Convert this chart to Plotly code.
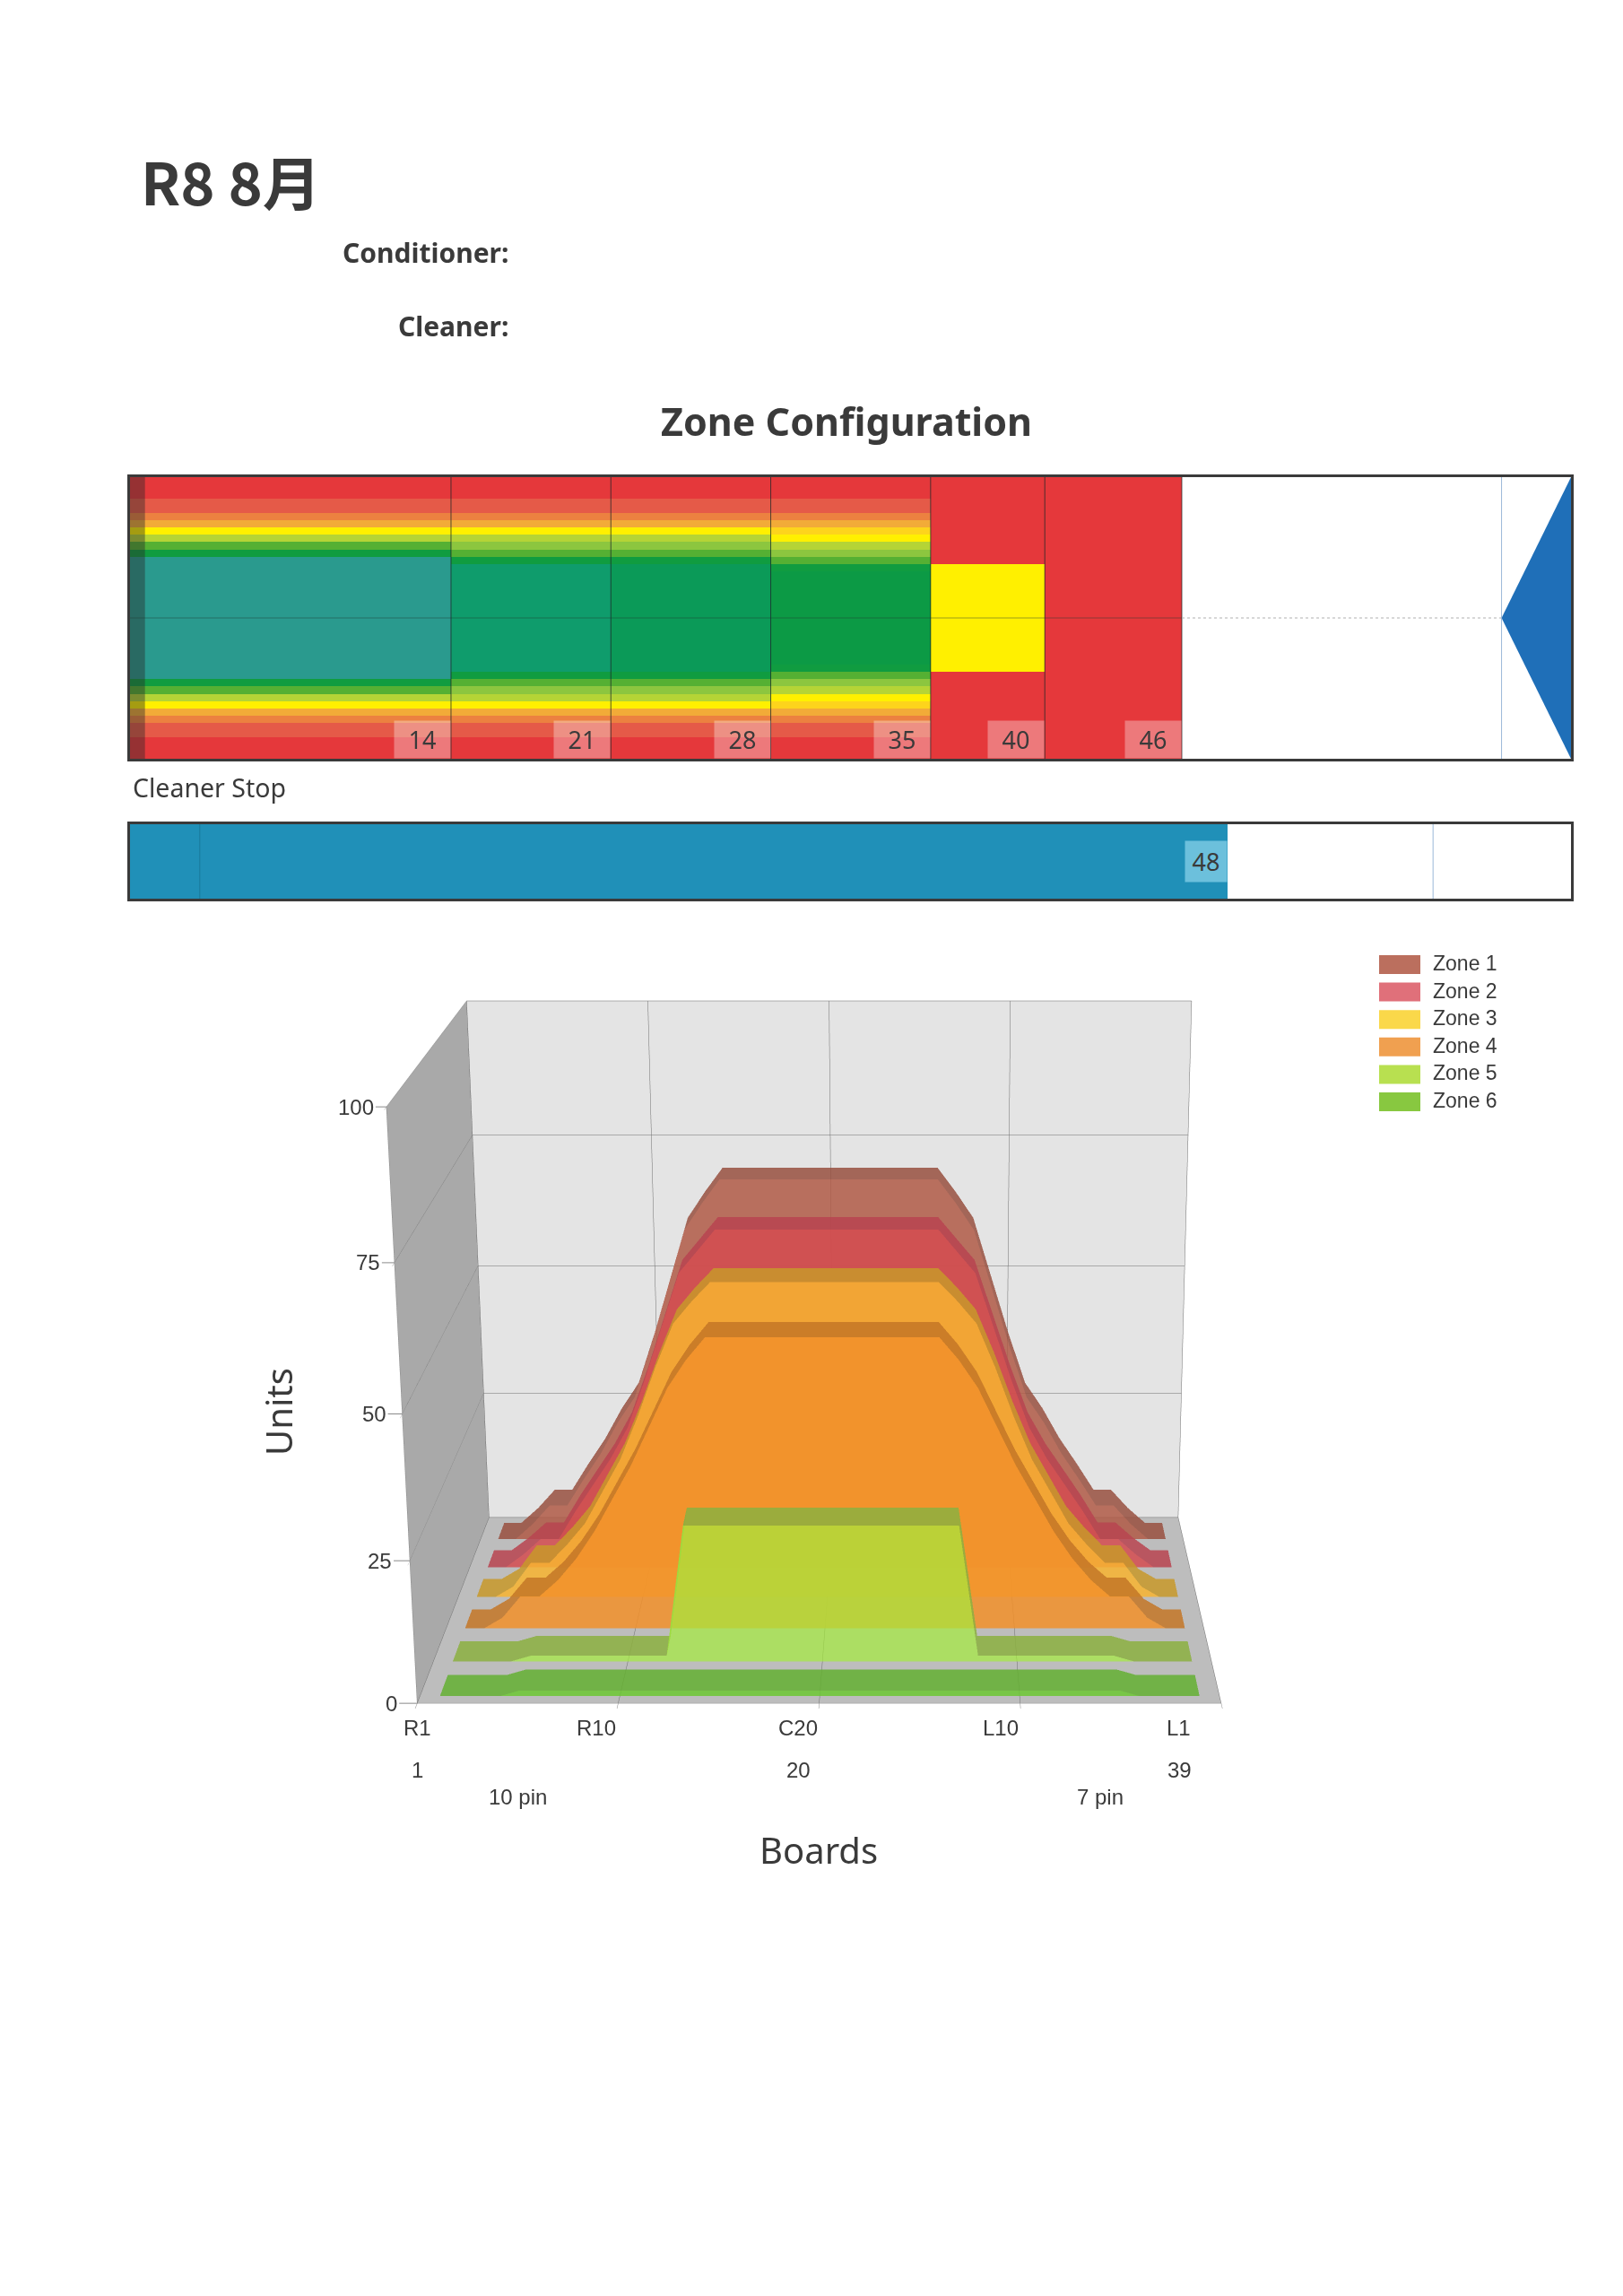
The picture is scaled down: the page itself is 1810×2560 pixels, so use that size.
import plotly.graph_objects as go

W = 1810
H = 2560

# lane pattern, one row per board, one column per zone
zone_ends = [14, 21, 28, 35, 40, 46]
lane_start = -0.055
lane_end = 63.04
foul_strip = 0.6
pin_deck = 60
stop_at = 48
stop_lines = [3, 57]

band_colors = ['#e5383b', '#e55a48', '#ec8140', '#f2ab38', '#fdd41c', '#fff000', '#b5d436',
               '#8cc63f', '#55b033', '#109c40', '#0c9a45', '#0b9a58', '#2a9a8e', '#0f9c6c']
lane_z1 = [0, 0, 0, 1, 1, 2, 3, 5, 6, 8, 9, 12, 12, 12, 12, 12, 12, 12, 12, 12,
           12, 12, 12, 12, 12, 12, 12, 12, 9, 8, 6, 5, 3, 2, 1, 1, 0, 0, 0]
lane_z2 = [0, 0, 0, 1, 1, 2, 3, 5, 6, 7, 8, 9, 13, 13, 13, 13, 13, 13, 13, 13,
           13, 13, 13, 13, 13, 13, 13, 9, 8, 7, 6, 5, 3, 2, 1, 1, 0, 0, 0]
lane_z3 = [0, 0, 0, 1, 1, 2, 3, 5, 6, 7, 8, 9, 11, 11, 11, 11, 11, 11, 11, 11,
           11, 11, 11, 11, 11, 11, 11, 9, 8, 7, 6, 5, 3, 2, 1, 1, 0, 0, 0]
lane_z4 = [0, 0, 0, 1, 1, 2, 3, 4, 5, 6, 7, 8, 9, 10, 10, 10, 10, 10, 10, 10,
           10, 10, 10, 10, 10, 10, 9, 8, 7, 6, 5, 4, 3, 2, 1, 1, 0, 0, 0]
lane_z5 = [0] * 12 + [5] * 15 + [0] * 12
lane_z6 = [0] * 39

# oil units per board
boards = list(range(1, 40))
units_z1 = [0, 0, 3, 6.7, 6.7, 12, 17, 23, 28, 38, 49, 60, 65, 69.5, 69.5, 69.5, 69.5, 69.5, 69.5, 69.5,
            69.5, 69.5, 69.5, 69.5, 69.5, 69.5, 65, 60, 49, 38, 28, 23, 17, 12, 6.7, 6.7, 3, 0, 0]
units_z2 = [0, 0, 2.5, 5.5, 5.5, 11, 16, 21, 27, 36, 46, 56, 60, 64, 64, 64, 64, 64, 64, 64,
            64, 64, 64, 64, 64, 64, 60, 56, 46, 36, 27, 21, 16, 11, 5.5, 5.5, 2.5, 0, 0]
units_z3 = [0, 0, 2, 6.5, 6.5, 10, 14, 20, 26, 34, 43, 51, 55, 58.5, 58.5, 58.5, 58.5, 58.5, 58.5, 58.5,
            58.5, 58.5, 58.5, 58.5, 58.5, 58.5, 55, 51, 43, 34, 26, 20, 14, 10, 6.5, 6.5, 2, 0, 0]
units_z4 = [0, 0, 2, 6, 6, 9, 13, 18, 24, 30, 37, 44, 49, 53, 53, 53, 53, 53, 53, 53,
            53, 53, 53, 53, 53, 53, 49, 44, 37, 30, 24, 18, 13, 9, 6, 6, 2, 0, 0]
units_z5 = [0] * 4 + [1] * 8 + [24.5] * 15 + [1] * 8 + [0] * 4
units_z6 = [0] * 4 + [1] * 31 + [0] * 4

zone_names = ['Zone 1', 'Zone 2', 'Zone 3', 'Zone 4', 'Zone 5', 'Zone 6']
legend_colors = ['#bb6f5e', '#e0707a', '#fad84a', '#f0a050', '#b8e050', '#88c840']
front_colors = ['#b05a46', '#d44c50', '#f8b430', '#f2902a', '#a4ec3c', '#6cc832']
top_colors = ['#98503f', '#b84450', '#c8982a', '#c47626', '#8cb040', '#64b032']
front_opacity = [0.85, 0.85, 0.85, 0.85, 0.7, 0.85]

x_tickvals = [0, 10, 20, 30, 40]
x_ticktext = ['R1', 'R10', 'C20', 'L10', 'L1']
z_tickvals = [0, 25, 50, 75, 100]

DARK = '#3a3a3a'


def px(x):
    return x / W


def py(y):
    return 1 - y / H


fig = go.Figure()

# lane
scale = [[0, band_colors[0]]]
for n, c in enumerate(band_colors):
    scale.append([n / len(band_colors), c])
    scale.append([(n + 1) / len(band_colors), c])
lane_rows = [list(r) for r in zip(lane_z1, lane_z2, lane_z3, lane_z4, lane_z5, lane_z6)]
fig.add_trace(go.Heatmap(x=[lane_start] + zone_ends, y=[b - 0.5 for b in boards] + [39.5], z=lane_rows,
                         colorscale=scale, zmin=-0.5, zmax=len(band_colors) - 0.5, showscale=False,
                         hoverinfo='skip', xaxis='x', yaxis='y'))
fig.add_trace(go.Scatter(x=[pin_deck, lane_end, lane_end, pin_deck], y=[20, 0.5, 39.5, 20], fill='toself',
                         fillcolor='#1f6fb8', mode='none', hoverinfo='skip', showlegend=False,
                         xaxis='x', yaxis='y'))

# cleaner stop bar
fig.add_trace(go.Bar(x=[stop_at - lane_start], base=[lane_start], y=[0], width=1, orientation='h',
                     marker=dict(color='#2090b8', line=dict(width=0)), hoverinfo='skip', showlegend=False,
                     xaxis='x2', yaxis='y2'))

shapes = []
for e in zone_ends:
    shapes.append(dict(type='line', xref='x', yref='y', x0=e, x1=e, y0=0.5, y1=39.5,
                       line=dict(color='rgba(30,40,40,0.75)', width=1)))
shapes.append(dict(type='rect', xref='x', yref='y', x0=lane_start, x1=foul_strip, y0=0.5, y1=39.5,
                   fillcolor='rgba(40,40,40,0.42)', line=dict(width=0)))
shapes.append(dict(type='line', xref='x', yref='y', x0=lane_start, x1=zone_ends[-1], y0=20, y1=20,
                   line=dict(color='rgba(30,60,50,0.45)', width=1)))
shapes.append(dict(type='line', xref='x', yref='y', x0=zone_ends[-1], x1=pin_deck, y0=20, y1=20,
                   line=dict(color='#b0b0b0', width=1, dash='dot')))
shapes.append(dict(type='line', xref='x', yref='y', x0=pin_deck, x1=pin_deck, y0=0.5, y1=39.5,
                   line=dict(color='#9ab8d8', width=1)))
shapes.append(dict(type='line', xref='x2', yref='y2', x0=stop_lines[0], x1=stop_lines[0], y0=-0.5, y1=0.5,
                   line=dict(color='#1a7a9c', width=1)))
shapes.append(dict(type='line', xref='x2', yref='y2', x0=stop_lines[1], x1=stop_lines[1], y0=-0.5, y1=0.5,
                   line=dict(color='#9ab8d8', width=1)))

annotations = []
for e in zone_ends:
    annotations.append(dict(x=e, y=39.5, xref='x', yref='y', text=str(e), showarrow=False,
                            xanchor='right', yanchor='bottom', width=62, height=41, borderpad=0,
                            bgcolor='rgba(255,255,255,0.33)', font=dict(family='Noto Sans', size=27, color=DARK)))
annotations.append(dict(x=stop_at, y=0, xref='x2', yref='y2', text=str(stop_at), showarrow=False,
                        xanchor='right', yanchor='middle', width=46, height=45, borderpad=0,
                        bgcolor='#6cc0dc', font=dict(family='Noto Sans', size=27, color=DARK)))


def page_text(x, y, text, size, anchor='left', family='Noto Sans', bold=False, color=DARK, angle=0):
    annotations.append(dict(x=px(x), y=py(y), xref='paper', yref='paper', text=text, showarrow=False,
                            xanchor=anchor, yanchor='middle', textangle=angle,
                            font=dict(family=family, size=size, color=color, weight=700 if bold else 400)))


page_text(155, 201, 'R8 8月', 65, family='Noto Sans CJK JP', bold=True)
page_text(569, 282, 'Conditioner:', 30, anchor='right', bold=True)
page_text(569, 363, 'Cleaner:', 30, anchor='right', bold=True)
page_text(944, 469, 'Zone Configuration', 43, anchor='center', bold=True)
page_text(146, 878, 'Cleaner Stop', 28.5)
page_text(310, 1574, 'Units', 40, anchor='center', angle=-90)
page_text(913, 2062, 'Boards', 40, anchor='center')

# legend
for n, name in enumerate(zone_names):
    top = 1065 + n * 30.6
    shapes.append(dict(type='rect', xref='paper', yref='paper', x0=px(1538), x1=px(1584),
                       y0=py(top), y1=py(top + 21), fillcolor=legend_colors[n], line=dict(width=0)))
    page_text(1596, top + 9, name, 23, family='Liberation Sans')

# 3d zones, drawn back to front
all_units = [units_z1, units_z2, units_z3, units_z4, units_z5, units_z6]
for n, units in enumerate(all_units):
    slot = len(all_units) - 1 - n
    y_front = slot + 0.2
    y_back = slot + 0.8
    count = len(boards)
    xs = [b for b in boards for _ in range(2)]
    # front face
    ys = [y_front] * (2 * count)
    zs = [v for u in units for v in (0, u)]
    # top face
    ys_top = [v for _ in boards for v in (y_front, y_back)]
    zs_top = [u for u in units for _ in range(2)]
    i = [q for c in range(count - 1) for q in (2 * c, 2 * c + 1)]
    j = [q for c in range(count - 1) for q in (2 * c + 2, 2 * c + 2)]
    k = [q for c in range(count - 1) for q in (2 * c + 1, 2 * c + 3)]
    light = dict(ambient=1, diffuse=0, specular=0, fresnel=0, roughness=1)
    fig.add_trace(go.Mesh3d(x=xs, y=ys_top, z=zs_top, i=i, j=j, k=k, color=top_colors[n], opacity=0.85,
                            flatshading=True, lighting=light, hoverinfo='skip', scene='scene'))
    fig.add_trace(go.Mesh3d(x=xs, y=ys, z=zs, i=i, j=j, k=k, color=front_colors[n], opacity=front_opacity[n],
                            flatshading=True, lighting=light, hoverinfo='skip', scene='scene'))

label_font = dict(family='Liberation Sans', size=24, color=DARK)
scene_notes = []
# the arrow is the little tick between the number and the wall
z_gap = [-20, -18, -16, -14, -12]
for v, g in zip(z_tickvals, z_gap):
    scene_notes.append(dict(x=0, y=0, z=v, text=str(v), showarrow=True, arrowhead=0, arrowwidth=1,
                            arrowcolor='#8a8a8a', ax=g, ay=0, xanchor='right', font=label_font))
x_shift = [18, 0, 0, 0, -32]
for v, t, s in zip(x_tickvals, x_ticktext, x_shift):
    scene_notes.append(dict(x=v, y=0, z=0, text=t, showarrow=False, xanchor='right', xshift=s, yshift=-27, font=label_font))
for v, t, s in zip([0, 20, 40], ['1', '20', '39'], [0, -23, -46]):
    scene_notes.append(dict(x=v, y=0, z=0, text=t, showarrow=False, xshift=s, yshift=-74, font=label_font))
for v, t in zip([5, 34], ['10 pin', '7 pin']):
    scene_notes.append(dict(x=v, y=0, z=0, text=t, showarrow=False, yshift=-104, font=label_font))

axis_common = dict(showspikes=False, zeroline=False, showticklabels=False, title='', showbackground=True,
                   gridcolor='#6e6e6e', gridwidth=1, showline=True, linecolor='#8a8a8a', linewidth=1)
axis_ticks = dict(ticks='outside', ticklen=8, tickcolor='#8a8a8a', tickwidth=1)

fig.update_layout(
    width=W, height=H, margin=dict(l=0, r=0, t=0, b=0), autosize=False,
    paper_bgcolor='white', plot_bgcolor='rgba(0,0,0,0)', showlegend=False, bargap=0,
    xaxis=dict(domain=[px(145), px(1752)], range=[lane_start, lane_end], anchor='y', showgrid=False, zeroline=False,
               showticklabels=False, ticks='', showline=True, mirror=True, linecolor=DARK, linewidth=3),
    yaxis=dict(domain=[py(846), py(532)], range=[39.5, 0.5], anchor='x', showgrid=False, zeroline=False,
               showticklabels=False, ticks='', showline=True, mirror=True, linecolor=DARK, linewidth=3),
    xaxis2=dict(domain=[px(145), px(1752)], range=[lane_start, lane_end], anchor='y2', showgrid=False, zeroline=False,
                showticklabels=False, ticks='', showline=True, mirror=True, linecolor=DARK, linewidth=3),
    yaxis2=dict(domain=[py(1002), py(919)], range=[-0.5, 0.5], anchor='x2', showgrid=False, zeroline=False,
                showticklabels=False, ticks='', showline=True, mirror=True, linecolor=DARK, linewidth=3),
    scene=dict(
        # the page is off centre for this view, so the scene box is too
        domain=dict(x=[px(242), 1], y=[0, 1]),
        bgcolor='rgba(0,0,0,0)',
        aspectmode='manual',
        aspectratio=dict(x=1, y=0.595, z=0.765),
        camera=dict(eye=dict(x=0.1254, y=-3.446, z=1.18), center=dict(x=0.1254, y=0.0606, z=0.2362),
                    up=dict(x=-0.009, y=0, z=1)),
        xaxis=dict(range=[0, 40], tickvals=x_tickvals, backgroundcolor='#a9a9a9', **axis_common, **axis_ticks),
        yaxis=dict(range=[0, 6], showgrid=False, tickvals=[], backgroundcolor='#e4e4e4', **axis_common),
        zaxis=dict(range=[0, 100], tickvals=z_tickvals, backgroundcolor='#bdbdbd', **axis_common, **axis_ticks),
        annotations=scene_notes,
    ),
    shapes=shapes,
    annotations=annotations,
)

fig.write_html("out.html", config=dict(displayModeBar=False), post_script="document.body.style.margin='0'")
